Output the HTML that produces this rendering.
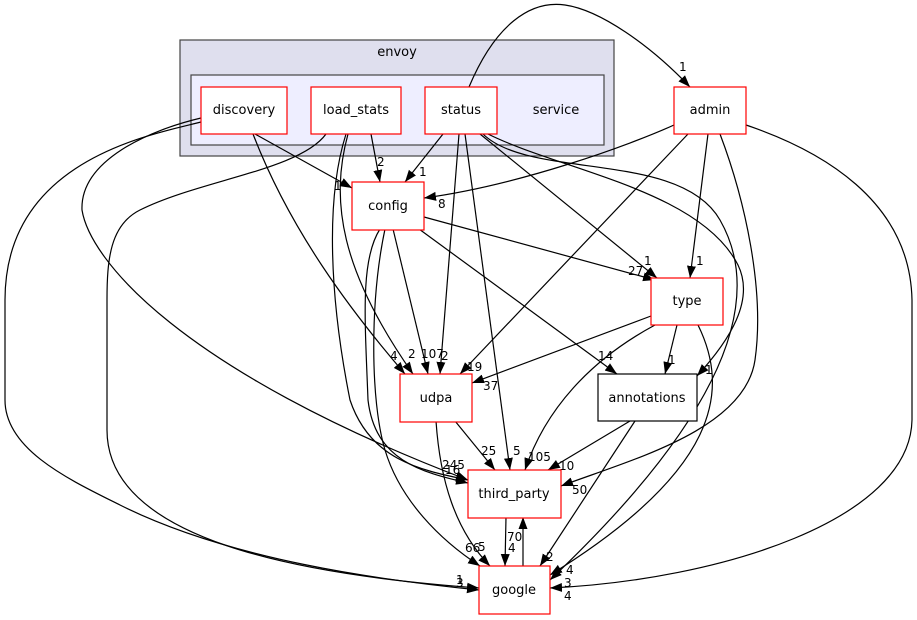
<!DOCTYPE html>
<html><head><meta charset="utf-8"><style>
html,body{margin:0;padding:0;background:#fff}
svg{display:block}
text{font-family:"DejaVu Sans","Liberation Sans",sans-serif;font-size:13px;fill:#000}
.l{font-size:12px}
.e{fill:none;stroke:#000;stroke-width:1.2}
.n{fill:#fff;stroke:#ff0000;stroke-width:1.2}
</style></head><body>
<svg width="917" height="620" viewBox="0 0 917 620" xmlns="http://www.w3.org/2000/svg">
<defs><marker id="a" viewBox="0 0 12 10" refX="12" refY="5" markerWidth="12" markerHeight="10" markerUnits="userSpaceOnUse" orient="auto"><path d="M0,0.5 L12,5 L0,9.5 Z" fill="#000"/></marker></defs>
<rect x="180" y="40" width="434" height="116" fill="#dfdfee" stroke="#444" stroke-width="1.2"/>
<text x="397" y="56" text-anchor="middle">envoy</text>
<rect x="191" y="75" width="413" height="70" fill="#eeeeff" stroke="#444" stroke-width="1.2"/>
<text x="556" y="114" text-anchor="middle">service</text>

<g class="e" marker-end="url(#a)">
<path d="M255,134 L352,188"/>
<path d="M371,134 L380,182"/>
<path d="M443,134 L405,182"/>
<path d="M674,125 C630,145 520,185 424,198"/>
<path d="M469,87 C495,25 530,0 565,5 C600,10 650,45 690,87"/>
<path d="M424,217 L655,280"/>
<path d="M480,134 L657,278"/>
<path d="M708,134 L690,278"/>
<path d="M419,229 L617,374"/>
<path d="M488,134 C560,170 700,190 738,265 C755,300 730,340 697,376"/>
<path d="M677,325 L665,374"/>
<path d="M253,134 C290,230 350,310 405,374"/>
<path d="M348,134 C330,200 340,270 413,374"/>
<path d="M393,229 L428,374"/>
<path d="M459,134 L440,374"/>
<path d="M688,134 L460,374"/>
<path d="M651,316 L472,383"/>
<path d="M455,421 L495,470"/>
<path d="M465,134 L510,470"/>
<path d="M655,325 C590,360 545,410 525,470"/>
<path d="M630,421 L548,470"/>
<path d="M720,134 C745,200 765,290 755,360 C745,430 630,460 561,486"/>
<path d="M201,118 C150,130 80,160 82,210 C90,260 180,370 468,480"/>
<path d="M346,134 C325,200 330,300 350,400 C370,460 420,470 468,480"/>
<path d="M380,229 C360,260 365,320 368,400 C375,460 420,472 468,483"/>
<path d="M506,517 L505,566"/>
<path d="M523,566 L523,517"/>
<path d="M436,421 C440,480 455,530 490,566"/>
<path d="M385,229 C370,300 370,400 385,450 C400,500 440,540 480,566"/>
<path d="M635,421 L540,566"/>
<path d="M698,325 C730,390 720,470 550,575"/>
<path d="M483,134 C530,180 680,150 720,220 C760,290 740,400 550,580"/>
<path d="M746,125 C820,150 910,200 912,300 L912,420 C910,520 720,580 550,588"/>
<path d="M201,122 C150,135 5,160 5,300 L5,400 C5,450 70,480 120,505 C230,560 380,580 479,590"/>
<path d="M326,134 C300,170 200,180 140,210 C110,225 107,260 107,300 L107,430 C107,540 300,575 479,588"/>
</g>

<g class="l">
<text x="334" y="190" class="l">1</text>
<text x="377" y="166" class="l">2</text>
<text x="419" y="176" class="l">1</text>
<text x="438" y="208" class="l">8</text>
<text x="679" y="71" class="l">1</text>
<text x="628" y="275" class="l">27</text>
<text x="644" y="265" class="l">1</text>
<text x="696" y="265" class="l">1</text>
<text x="598" y="360" class="l">14</text>
<text x="705" y="374" class="l">1</text>
<text x="668" y="364" class="l">1</text>
<text x="390" y="360" class="l">4</text>
<text x="408" y="358" class="l">2</text>
<text x="421" y="358" class="l">107</text>
<text x="441" y="360" class="l">2</text>
<text x="467" y="371" class="l">19</text>
<text x="483" y="390" class="l">37</text>
<text x="481" y="455" class="l">25</text>
<text x="513" y="455" class="l">5</text>
<text x="528" y="461" class="l">105</text>
<text x="559" y="470" class="l">10</text>
<text x="572" y="494" class="l">50</text>
<text x="442" y="469" class="l">245</text>
<text x="445" y="474" class="l">16</text>
<text x="507" y="541" class="l">70</text>
<text x="508" y="552" class="l">4</text>
<text x="478" y="551" class="l">5</text>
<text x="465" y="552" class="l">66</text>
<text x="546" y="561" class="l">2</text>
<text x="566" y="574" class="l">4</text>
<text x="564" y="587" class="l">3</text>
<text x="564" y="600" class="l">4</text>
<text x="456" y="584" class="l">1</text>
<text x="456" y="587" class="l">3</text>
</g>

<rect class="n" x="201" y="87" width="86" height="47"/><text x="244" y="114" text-anchor="middle">discovery</text>
<rect class="n" x="311" y="87" width="90" height="47"/><text x="356" y="114" text-anchor="middle">load_stats</text>
<rect class="n" x="425" y="87" width="72" height="47"/><text x="461" y="114" text-anchor="middle">status</text>
<rect class="n" x="674" y="87" width="72" height="47"/><text x="710" y="114" text-anchor="middle">admin</text>
<rect class="n" x="352" y="182" width="72" height="48"/><text x="388" y="210" text-anchor="middle">config</text>
<rect class="n" x="651" y="278" width="72" height="47"/><text x="687" y="305" text-anchor="middle">type</text>
<rect class="n" x="400" y="374" width="72" height="48"/><text x="436" y="402" text-anchor="middle">udpa</text>
<rect x="598" y="374" width="99" height="47" fill="#fff" stroke="#000" stroke-width="1.2"/><text x="647" y="402" text-anchor="middle">annotations</text>
<rect class="n" x="468" y="470" width="93" height="48"/><text x="514" y="498" text-anchor="middle">third_party</text>
<rect class="n" x="479" y="566" width="71" height="48"/><text x="514" y="594" text-anchor="middle">google</text>
</svg>
</body></html>
